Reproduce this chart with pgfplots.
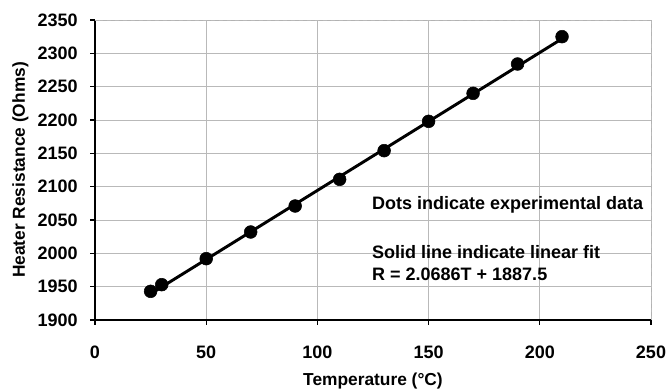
\documentclass[border=0pt]{standalone}
\usepackage{pgfplots}
\pgfplotsset{compat=1.18}
\usepackage{fontspec}
\setmainfont{Liberation Sans}
\begin{document}
\begin{tikzpicture}
\begin{axis}[
  name=ax,
  scale only axis,
  width=417pt, height=225pt,
  xmin=0, xmax=250, ymin=1900, ymax=2350,
  xtick={0,50,...,250}, ytick={1900,1950,...,2350},
  axis x line*=bottom, axis y line*=left,
  x axis line style={line width=1.6pt,-},
  y axis line style={line width=0.8pt,-},
  tick align=outside, major tick length=3.5pt,
  tick style={black, line width=0.8pt},
  grid=major,
  major grid style={gray!55, line width=0.5pt},
  /pgf/number format/assume math mode=true,
  /pgf/number format/set thousands separator={},
  ticklabel style={font=\fontsize{13.5pt}{15pt}\selectfont\bfseries},
  xticklabel style={yshift=-12.5pt},
  yticklabel style={xshift=-6pt},
  xlabel={Temperature (°C)},
  ylabel={Heater Resistance (Ohms)},
  label style={font=\fontsize{13pt}{15pt}\selectfont\bfseries},
  xlabel style={yshift=-3.5pt},
  ylabel style={yshift=0pt},
  clip=false,
]
\draw[gray!60, dashed, line width=0.6pt] (axis cs:0,2350) -- (axis cs:250,2350) -- (axis cs:250,1900);
\addplot[black, line width=2.2pt, no marks] coordinates {(25,1939.2) (210,2321.9)};
\addplot[only marks, mark=*, mark size=4.8pt, black] coordinates {
(25,1943) (30,1953) (50,1992) (70,2032) (90,2071) (110,2111) (130,2154) (150,2198) (170,2240) (190,2284) (210,2325)};
\node[anchor=west, font=\fontsize{13.5pt}{15pt}\selectfont\bfseries, inner sep=0pt] at (axis cs:124.5,2072) {Dots indicate experimental data};
\node[anchor=west, font=\fontsize{13.5pt}{15pt}\selectfont\bfseries, inner sep=0pt] at (axis cs:124.5,2002) {Solid line indicate linear fit};
\node[anchor=west, font=\fontsize{13.5pt}{15pt}\selectfont\bfseries, inner sep=0pt] at (axis cs:124.5,1968) {R = 2.0686T + 1887.5};
\end{axis}
\pgfresetboundingbox
\path ([shift={(-71.25pt,-52.5pt)}]ax.south west) rectangle ([shift={(12.75pt,15pt)}]ax.north east);
\end{tikzpicture}
\end{document}
